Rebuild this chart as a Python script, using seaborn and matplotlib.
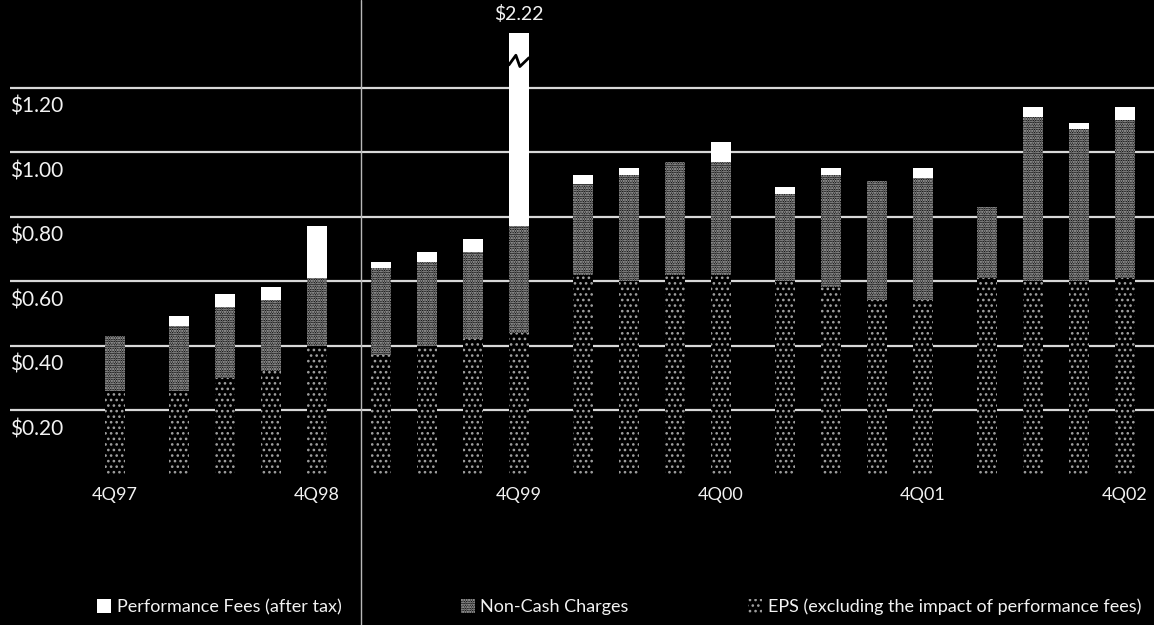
import numpy as np
import pandas as pd
import matplotlib.pyplot as plt
import seaborn as sns
from matplotlib.patches import Patch
from matplotlib.lines import Line2D

# Quarterly figures
quarters = ['4Q97', '1Q98', '2Q98', '3Q98', '4Q98', '1Q99', '2Q99', '3Q99', '4Q99',
            '1Q00', '2Q00', '3Q00', '4Q00', '1Q01', '2Q01', '3Q01', '4Q01',
            '1Q02', '2Q02', '3Q02', '4Q02']
eps = [0.26, 0.26, 0.30, 0.32, 0.40, 0.37, 0.40, 0.42, 0.44,
       0.62, 0.60, 0.62, 0.62, 0.60, 0.58, 0.54, 0.54,
       0.61, 0.60, 0.60, 0.61]
non_cash = [0.17, 0.20, 0.22, 0.22, 0.21, 0.27, 0.26, 0.27, 0.33,
            0.28, 0.33, 0.35, 0.35, 0.27, 0.35, 0.37, 0.38,
            0.22, 0.51, 0.47, 0.49]
perf_fees = [0.00, 0.03, 0.04, 0.04, 0.16, 0.02, 0.03, 0.04, 1.45,
             0.03, 0.02, 0.00, 0.06, 0.02, 0.02, 0.00, 0.03,
             0.00, 0.03, 0.02, 0.04]
y_ticks = [0.20, 0.40, 0.60, 0.80, 1.00, 1.20]
y_labels = ['$0.20', '$0.40', '$0.60', '$0.80', '$1.00', '$1.20']
legend_labels = ['Performance Fees (after tax)', 'Non-Cash Charges',
                 'EPS (excluding the impact of performance fees)']

# layout settings
year_gap = 0.39       # extra space between years
bar_width = 0.435
cap = 1.37            # axis break for the tall 4Q99 bar
txt = '#f2f2f2'
nc_hatch, nc_col = '.......', '#d4d4d4'
eps_hatch, eps_col = '...', '#a0a0a0'

df = pd.DataFrame({'quarter': quarters, 'eps': eps, 'non_cash': non_cash, 'perf': perf_fees})
df['pos'] = np.arange(len(df)) + year_gap * df['quarter'].str.startswith('1Q').cumsum()
df['cash'] = df['eps'] + df['non_cash']
df['total'] = df['cash'] + df['perf']
df['shown'] = df['total'].clip(upper=cap)

sns.set_style('dark')
plt.rcParams['font.family'] = ['Lato', 'DejaVu Sans']
plt.rcParams['hatch.linewidth'] = 1.1

fig = plt.figure(figsize=(11.54, 6.25), dpi=100, facecolor='black')
ax = fig.add_axes([10 / 1154, 0.2408, 1 - 10 / 1154, 1 - 0.2408])
ax.set_facecolor('black')

# stacked bars drawn as overlays: total (white perf fees), then cash, then eps
sns.barplot(data=df, x='pos', y='shown', native_scale=True, width=bar_width,
            color='white', saturation=1, errorbar=None, linewidth=0, ax=ax)
sns.barplot(data=df, x='pos', y='cash', native_scale=True, width=bar_width,
            color='black', saturation=1, errorbar=None, linewidth=0,
            hatch=nc_hatch, edgecolor=nc_col, ax=ax)
sns.barplot(data=df, x='pos', y='eps', native_scale=True, width=bar_width,
            color='black', saturation=1, errorbar=None, linewidth=0,
            hatch=eps_hatch, edgecolor=eps_col, ax=ax)

# axis break on the 4Q99 bar and its value label
big = df.loc[df['total'] > cap].iloc[0]
zx = big['pos'] + np.array([-0.5, -0.15, 0.05, 0.5]) * bar_width
zy = cap - 0.09 + np.array([-0.01, 0.02, -0.015, 0.012])
ax.plot(zx, zy, color='black', lw=2, zorder=5)
ax.text(big['pos'], cap + 0.03, f"\\${big['total']:.2f}", ha='center', va='bottom',
        color=txt, fontsize=14)

# y gridlines with labels tucked underneath
ax.set_yticks(y_ticks)
ax.yaxis.grid(True, color='#d8d8d8', lw=1.6)
ax.xaxis.grid(False)
ax.set_axisbelow(True)
for v, lab in zip(y_ticks, y_labels):
    ax.text(0.0, v - 0.06, lab.replace('$', '\\$'), transform=ax.get_yaxis_transform(),
            ha='left', va='center', color=txt, fontsize=15)
ax.tick_params(axis='y', left=False, labelleft=False)

q4 = df[df['quarter'].str.startswith('4Q')]
ax.set_xticks(q4['pos'])
ax.set_xticklabels(q4['quarter'], color=txt, fontsize=13)
ax.tick_params(axis='x', length=0, pad=9)

x0 = df['pos'].iloc[0]
ax.set_xlim(x0 - 105 / 46, x0 + 1039 / 46)
ax.set_ylim(0, 474.5 / 322.5)
ax.set_xlabel('')
ax.set_ylabel('')
for s in ax.spines.values():
    s.set_visible(False)

# column separator running down the page
fig.add_artist(Line2D([361 / 1154] * 2, [0, 1], transform=fig.transFigure,
                      color='#b8b8b8', lw=1))

handles = [Patch(facecolor='white', edgecolor='white', lw=0),
           Patch(facecolor='black', hatch=nc_hatch, edgecolor=nc_col, lw=0),
           Patch(facecolor='black', hatch=eps_hatch, edgecolor=eps_col, lw=0)]
fig.legend(handles, legend_labels, loc='center right', bbox_to_anchor=(1.003, 0.029),
           ncol=3, frameon=False, fontsize=13, labelcolor=txt, columnspacing=6.6,
           handlelength=0.8, handleheight=0.8, handletextpad=0.3)

plt.savefig('out.png', dpi=100, facecolor='black')
plt.close()
